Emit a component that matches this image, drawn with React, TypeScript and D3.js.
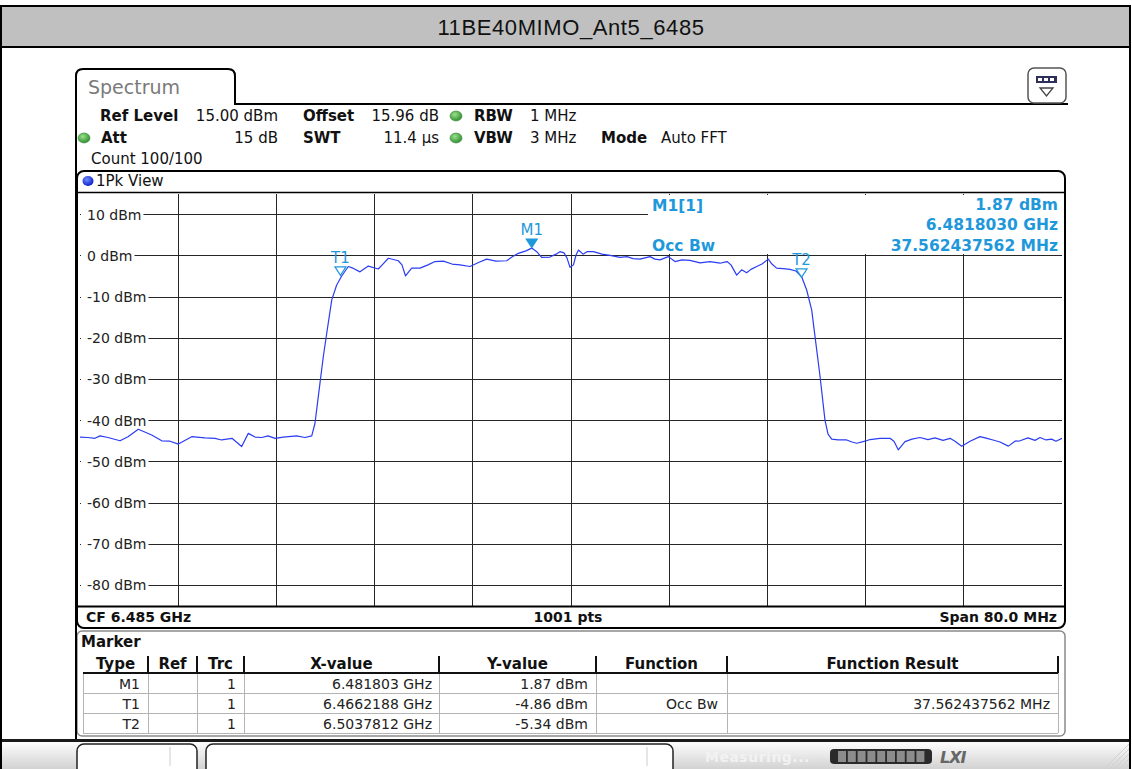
import React, { useEffect, useRef } from "react";
import * as d3 from "d3";

const FONT = "'DejaVu Sans', Verdana, sans-serif";
const MARK = "#1f98db";
const TRACE = "#2b3df2";

// sweep: CF 6.485 GHz, span 80 MHz
const startMHz = 6445;
const spanMHz = 80;
const refLevel = 15;

// trace points (offset from start in MHz, level in dBm)
const traceOffsetMHz = [
  0.0, 0.65, 1.22, 1.63, 2.28, 3.26, 3.91, 4.75, 5.84, 6.66,
  7.33, 8.01, 9.1, 10.18, 11.0, 11.54, 12.38, 13.17, 13.71, 14.26,
  14.8, 15.32, 15.89, 16.56, 17.65, 18.33, 18.88, 19.14, 19.55, 19.82,
  20.1, 20.51, 20.91, 21.32, 21.86, 22.24, 22.81, 23.49, 24.3, 24.68,
  25.12, 25.93, 26.23, 26.52, 27.02, 27.7, 28.35, 28.92, 29.6, 30.31,
  30.96, 31.77, 32.42, 33.13, 33.89, 34.76, 35.19, 35.71, 36.33, 36.8,
  37.21, 37.61, 38.29, 38.78, 39.1, 39.43, 39.67, 39.92, 40.2, 40.41,
  40.61, 40.98, 41.3, 41.82, 42.53, 43.18, 43.99, 44.56, 45.05, 45.62,
  46.44, 46.84, 47.25, 47.93, 48.47, 49.04, 49.69, 50.51, 51.32, 52.14,
  52.71, 53.03, 53.5, 53.9, 54.31, 54.66, 55.13, 55.56, 56.07, 56.37,
  56.75, 57.27, 57.84, 58.33, 58.79, 59.2, 59.61, 59.88, 60.29, 60.69,
  60.94, 61.24, 61.75, 62.46, 62.89, 63.28, 63.95, 64.36, 65.17, 65.99,
  66.31, 66.66, 67.21, 67.78, 68.43, 69.08, 69.65, 70.31, 70.88, 71.28,
  71.83, 72.51, 73.32, 73.89, 74.38, 74.95, 75.63, 76.17, 76.58, 77.23,
  77.8, 78.21, 78.7, 79.16, 79.51, 80.0,
];
const traceDbm = [
  -44.0, -44.1, -44.3, -43.7, -44.1, -44.9, -43.9, -42.1, -43.5, -44.9,
  -45.0, -45.7, -43.9, -44.2, -44.3, -44.7, -44.3, -46.3, -43.1, -44.0,
  -44.1, -43.7, -44.3, -44.0, -43.7, -44.1, -43.7, -40.7, -30.9, -24.5,
  -18.8, -10.7, -7.1, -4.9, -2.6, -3.0, -3.9, -2.5, -3.2, -2.0,
  -0.6, -1.2, -2.2, -4.9, -3.0, -3.0, -2.2, -1.4, -1.3, -2.0,
  -2.2, -2.6, -1.7, -0.8, -1.3, -1.2, -0.3, 0.6, 1.2, 1.87,
  1.0, -0.4, -0.3, 0.4, 1.0, 0.7, -0.5, -2.8, -2.2, 0.2,
  1.4, 0.4, 1.0, 1.0, 0.4, 0.1, -0.4, -0.2, -0.7, -0.8,
  -0.2, -0.8, -1.0, -0.2, -1.4, -1.0, -1.1, -1.7, -1.4, -1.8,
  -1.4, -2.2, -4.7, -3.4, -4.1, -3.3, -2.6, -2.0, -0.8, -2.0,
  -3.0, -3.1, -3.3, -3.7, -5.1, -8.3, -13.2, -19.6, -29.3, -39.9,
  -43.3, -44.5, -44.7, -44.7, -45.2, -45.5, -45.0, -44.6, -44.3, -44.3,
  -45.0, -47.1, -45.1, -44.5, -44.1, -44.6, -44.2, -44.8, -44.3, -45.0,
  -46.2, -45.0, -43.9, -44.3, -44.7, -45.2, -46.2, -45.0, -44.9, -44.2,
  -44.8, -44.1, -44.7, -44.5, -45.0, -44.3,
];

const levelTicks = [10, 0, -10, -20, -30, -40, -50, -60, -70, -80];

const markerNames = ["M1", "T1", "T2"];
const markerGHz = [6.481803, 6.4662188, 6.5037812];
const markerDbm = [1.87, -4.86, -5.34];

const tableHeads = ["Type", "Ref", "Trc", "X-value", "Y-value", "Function", "Function Result"];
const tableType = ["M1", "T1", "T2"];
const tableTrc = ["1", "1", "1"];
const tableX = ["6.481803 GHz", "6.4662188 GHz", "6.5037812 GHz"];
const tableY = ["1.87 dBm", "-4.86 dBm", "-5.34 dBm"];
const tableFunc = ["", "Occ Bw", ""];
const tableResult = ["", "37.562437562 MHz", ""];

const App = () => {
  const svgRef = useRef<SVGSVGElement>(null);

  useEffect(() => {
    const svg = d3.select(svgRef.current);
    svg.selectAll("*").remove();
    svg.attr("font-family", FONT);

    const defs = svg.append("defs");
    const green = defs.append("radialGradient").attr("id", "led-green").attr("cx", "40%").attr("cy", "35%").attr("r", "65%");
    green.append("stop").attr("offset", "0%").attr("stop-color", "#9be08c");
    green.append("stop").attr("offset", "100%").attr("stop-color", "#2f8f2f");
    const blue = defs.append("radialGradient").attr("id", "led-blue").attr("cx", "40%").attr("cy", "35%").attr("r", "65%");
    blue.append("stop").attr("offset", "0%").attr("stop-color", "#6f8cff");
    blue.append("stop").attr("offset", "100%").attr("stop-color", "#0a1fc8");
    const bar = defs.append("linearGradient").attr("id", "bar-grad").attr("x1", 0).attr("y1", 0).attr("x2", 0).attr("y2", 1);
    bar.append("stop").attr("offset", "0%").attr("stop-color", "#ffffff");
    bar.append("stop").attr("offset", "100%").attr("stop-color", "#d2d2d2");
    defs.append("clipPath").attr("id", "plot-clip")
      .append("rect").attr("x", 80).attr("y", 194).attr("width", 982).attr("height", 412);

    const text = (x: number, y: number, s: string, size: number, opts: any = {}) =>
      svg.append("text")
        .attr("x", x).attr("y", y)
        .attr("font-size", size)
        .attr("font-weight", opts.bold ? "bold" : "normal")
        .attr("text-anchor", opts.anchor || "start")
        .attr("fill", opts.fill || "#111")
        .text(s);

    svg.append("rect").attr("width", 1132).attr("height", 769).attr("fill", "#fff");

    // title bar
    svg.append("rect").attr("x", 1).attr("y", 6).attr("width", 1129).attr("height", 41)
      .attr("fill", "#c0c0c0").attr("stroke", "#000").attr("stroke-width", 2);
    text(571, 35, "11BE40MIMO_Ant5_6485", 22, { anchor: "middle" })
      .attr("font-family", "'Liberation Sans', Arial, sans-serif")
      .attr("letter-spacing", 0.6);
    svg.append("line").attr("x1", 1).attr("x2", 1).attr("y1", 47).attr("y2", 769).attr("stroke", "#000").attr("stroke-width", 2);
    svg.append("line").attr("x1", 1130).attr("x2", 1130).attr("y1", 47).attr("y2", 769).attr("stroke", "#000").attr("stroke-width", 2);

    // Spectrum tab and panel edge
    svg.append("path")
      .attr("d", "M76,740 V76 Q76,69 83,69 H228 Q235,69 235,76 V104 H1068")
      .attr("fill", "none").attr("stroke", "#000").attr("stroke-width", 2);
    text(88, 94, "Spectrum", 19, { fill: "#7a7a7a" });

    // top-right icon
    svg.append("rect").attr("x", 1028).attr("y", 68).attr("width", 38).attr("height", 35).attr("rx", 6)
      .attr("fill", "#fff").attr("stroke", "#555").attr("stroke-width", 1.5);
    svg.append("rect").attr("x", 1036).attr("y", 76).attr("width", 21).attr("height", 7).attr("fill", "#2e2e5a");
    [1038, 1044, 1050].forEach((px) =>
      svg.append("rect").attr("x", px).attr("y", 78).attr("width", 4).attr("height", 3).attr("fill", "#fff"));
    svg.append("path").attr("d", "M1040,88 H1053 L1046.5,96 Z").attr("fill", "#fff").attr("stroke", "#444").attr("stroke-width", 1.3);

    // settings block
    const led = (cx: number, cy: number) =>
      svg.append("ellipse").attr("cx", cx).attr("cy", cy).attr("rx", 6).attr("ry", 5)
        .attr("fill", "url(#led-green)").attr("stroke", "#3b8a3b").attr("stroke-width", 0.6);
    text(100, 121, "Ref Level", 15, { bold: true });
    text(278, 121, `${refLevel.toFixed(2)} dBm`, 15, { anchor: "end" });
    text(303, 121, "Offset", 15, { bold: true });
    text(439, 121, "15.96 dB", 15, { anchor: "end" });
    led(456, 116);
    text(474, 121, "RBW", 15, { bold: true });
    text(530, 121, "1 MHz", 15);

    led(84, 138);
    text(101, 143, "Att", 15, { bold: true });
    text(278, 143, "15 dB", 15, { anchor: "end" });
    text(303, 143, "SWT", 15, { bold: true });
    text(439, 143, "11.4 µs", 15, { anchor: "end" });
    led(456, 138);
    text(474, 143, "VBW", 15, { bold: true });
    text(530, 143, "3 MHz", 15);
    text(601, 143, "Mode", 15, { bold: true });
    text(661, 143, "Auto FFT", 15);

    text(91, 164, "Count 100/100", 15);

    // diagram frame
    svg.append("rect").attr("x", 77).attr("y", 171).attr("width", 988).attr("height", 457).attr("rx", 7)
      .attr("fill", "#fff").attr("stroke", "#000").attr("stroke-width", 2);
    svg.append("line").attr("x1", 78).attr("x2", 1064).attr("y1", 192.5).attr("y2", 192.5).attr("stroke", "#000").attr("stroke-width", 1.5);
    svg.append("ellipse").attr("cx", 88).attr("cy", 181).attr("rx", 5.5).attr("ry", 5).attr("fill", "url(#led-blue)");
    text(96, 186, "1Pk View", 15);

    const x = d3.scaleLinear().domain([0, spanMHz]).range([80, 1062]);
    const y = d3.scaleLinear().domain([refLevel - 100, refLevel]).range([606, 194]);

    const grid = svg.append("g").attr("stroke", "#262626").attr("stroke-width", 1).attr("shape-rendering", "crispEdges");
    grid.selectAll("line.v")
      .data(d3.range(1, 10).map((i) => (i * spanMHz) / 10))
      .join("line").attr("class", "v")
      .attr("x1", (d) => x(d)).attr("x2", (d) => x(d))
      .attr("y1", 194).attr("y2", 606);
    grid.selectAll("line.h")
      .data(levelTicks)
      .join("line").attr("class", "h")
      .attr("x1", 80).attr("x2", 1062)
      .attr("y1", (d) => y(d)).attr("y2", (d) => y(d));

    // level labels, each on a white patch that cuts the grid line
    const labels = svg.append("g");
    levelTicks.forEach((d) => {
      const t = labels.append("text")
        .attr("x", 87).attr("y", y(d) + 5)
        .attr("font-size", 14).attr("fill", "#222")
        .text(`${d} dBm`);
      const w = (t.node() as SVGTextElement).getComputedTextLength();
      labels.insert("rect", "text")
        .attr("x", 81).attr("y", y(d) - 8).attr("width", w + 8).attr("height", 16).attr("fill", "#fff");
    });

    // marker info box (covers the grid)
    svg.append("rect").attr("x", 648).attr("y", 195).attr("width", 414).attr("height", 59).attr("fill", "#fff");
    text(652, 211, "M1[1]", 15.5, { bold: true, fill: MARK });
    text(1058, 210, `${markerDbm[0].toFixed(2)} dBm`, 15.5, { bold: true, fill: MARK, anchor: "end" });
    text(1058, 230, `${markerGHz[0].toFixed(7)} GHz`, 15.5, { bold: true, fill: MARK, anchor: "end" });
    text(652, 251, "Occ Bw", 15.5, { bold: true, fill: MARK });
    text(1058, 251, tableResult[1], 15.5, { bold: true, fill: MARK, anchor: "end" });

    // trace
    const line = d3.line<number>()
      .x((d) => x(d))
      .y((_, i) => y(traceDbm[i]));
    svg.append("path")
      .datum(traceOffsetMHz)
      .attr("clip-path", "url(#plot-clip)")
      .attr("d", line)
      .attr("fill", "none")
      .attr("stroke", TRACE)
      .attr("stroke-width", 1.2)
      .attr("stroke-linejoin", "round");

    // markers
    markerNames.forEach((name, i) => {
      const mx = x(markerGHz[i] * 1000 - startMHz);
      const my = y(markerDbm[i]);
      const filled = name.startsWith("M");
      svg.append("path")
        .attr("d", `M${mx - 5.5},${my - 9} H${mx + 5.5} L${mx},${my - 0.5} Z`)
        .attr("fill", filled ? MARK : "none")
        .attr("stroke", MARK)
        .attr("stroke-width", 1.2);
      text(mx, my - 13, name, 15, { anchor: "middle", fill: MARK });
    });

    // footer of the diagram
    svg.append("line").attr("x1", 78).attr("x2", 1064).attr("y1", 606.5).attr("y2", 606.5).attr("stroke", "#000").attr("stroke-width", 2);
    text(86, 622, "CF 6.485 GHz", 14, { bold: true });
    text(568, 622, "1001 pts", 14, { bold: true, anchor: "middle" });
    text(1057, 622, "Span 80.0 MHz", 14, { bold: true, anchor: "end" });

    // marker table
    svg.append("rect").attr("x", 77).attr("y", 631).attr("width", 988).attr("height", 105).attr("rx", 5)
      .attr("fill", "#fff").attr("stroke", "#8a8a8a").attr("stroke-width", 1.5);
    svg.append("line").attr("x1", 76).attr("x2", 76).attr("y1", 631).attr("y2", 740).attr("stroke", "#000").attr("stroke-width", 2);
    text(81, 647, "Marker", 15, { bold: true });

    const cols = [83, 148, 197, 244, 439, 596, 727, 1058];
    const headTop = 654;
    const headBottom = 673;
    const rowH = 20;
    const table = svg.append("g").attr("shape-rendering", "crispEdges");
    // body grid
    d3.range(4).forEach((r) =>
      table.append("line").attr("x1", cols[0]).attr("x2", cols[7])
        .attr("y1", headBottom + r * rowH).attr("y2", headBottom + r * rowH)
        .attr("stroke", "#b4b4b4"));
    cols.forEach((c) =>
      table.append("line").attr("x1", c).attr("x2", c)
        .attr("y1", headBottom).attr("y2", headBottom + 3 * rowH)
        .attr("stroke", "#b4b4b4"));
    // header
    table.append("line").attr("x1", cols[0]).attr("x2", cols[7]).attr("y1", headBottom).attr("y2", headBottom)
      .attr("stroke", "#111").attr("stroke-width", 2);
    cols.slice(1).forEach((c) =>
      table.append("line").attr("x1", c).attr("x2", c).attr("y1", headTop + 2).attr("y2", headBottom)
        .attr("stroke", "#111").attr("stroke-width", 1.5));
    tableHeads.forEach((h, i) =>
      text((cols[i] + cols[i + 1]) / 2, 669, h, 15, { bold: true, anchor: "middle" }));

    const rows = tableType.map((t, i) => [t, "", tableTrc[i], tableX[i], tableY[i], tableFunc[i], tableResult[i]]);
    const pads = [8, 8, 8, 7, 8, 9, 8];
    rows.forEach((row, r) =>
      row.forEach((v, c) => {
        if (!v) return;
        text(cols[c + 1] - pads[c], headBottom + r * rowH + 15.5, v, 14, { anchor: "end", fill: "#222" });
      }));

    // status bar
    svg.append("rect").attr("x", 2).attr("y", 741).attr("width", 1127).attr("height", 28).attr("fill", "url(#bar-grad)");
    svg.append("line").attr("x1", 2).attr("x2", 1129).attr("y1", 740.5).attr("y2", 740.5).attr("stroke", "#1a1a1a").attr("stroke-width", 3);
    [[77, 120, 170], [206, 467, 647]].forEach(([bx, bw, div]) => {
      svg.append("rect").attr("x", bx).attr("y", 744).attr("width", bw).attr("height", 40).attr("rx", 7)
        .attr("fill", "#fff").attr("stroke", "#222").attr("stroke-width", 1.5);
      svg.append("line").attr("x1", div).attr("x2", div).attr("y1", 747).attr("y2", 766).attr("stroke", "#ccc");
    });
    text(705, 762, "Measuring...", 14, { bold: true, fill: "#f2f2f2" }).attr("letter-spacing", 0.5);
    svg.append("rect").attr("x", 830).attr("y", 749).attr("width", 102).attr("height", 15).attr("rx", 4).attr("fill", "#2a2a2a");
    d3.range(9).forEach((i) =>
      svg.append("rect").attr("x", 838 + i * 9.8).attr("y", 751).attr("width", 8).attr("height", 11).attr("fill", "#8c8c8c"));
    text(940, 763, "LXI", 16, { bold: true, fill: "#666" }).attr("font-style", "italic").attr("letter-spacing", -1);
    d3.range(5).forEach((i) =>
      svg.append("line")
        .attr("x1", 1104 + i * 5).attr("y1", 769)
        .attr("x2", 1129).attr("y2", 744 + i * 5)
        .attr("stroke", "#d0d0d0"));
  }, []);

  return (
    <div style={{ position: "absolute", left: 0, top: 0 }}>
      <svg ref={svgRef} width={1132} height={769} style={{ display: "block" }}></svg>
    </div>
  );
};

export default App;
